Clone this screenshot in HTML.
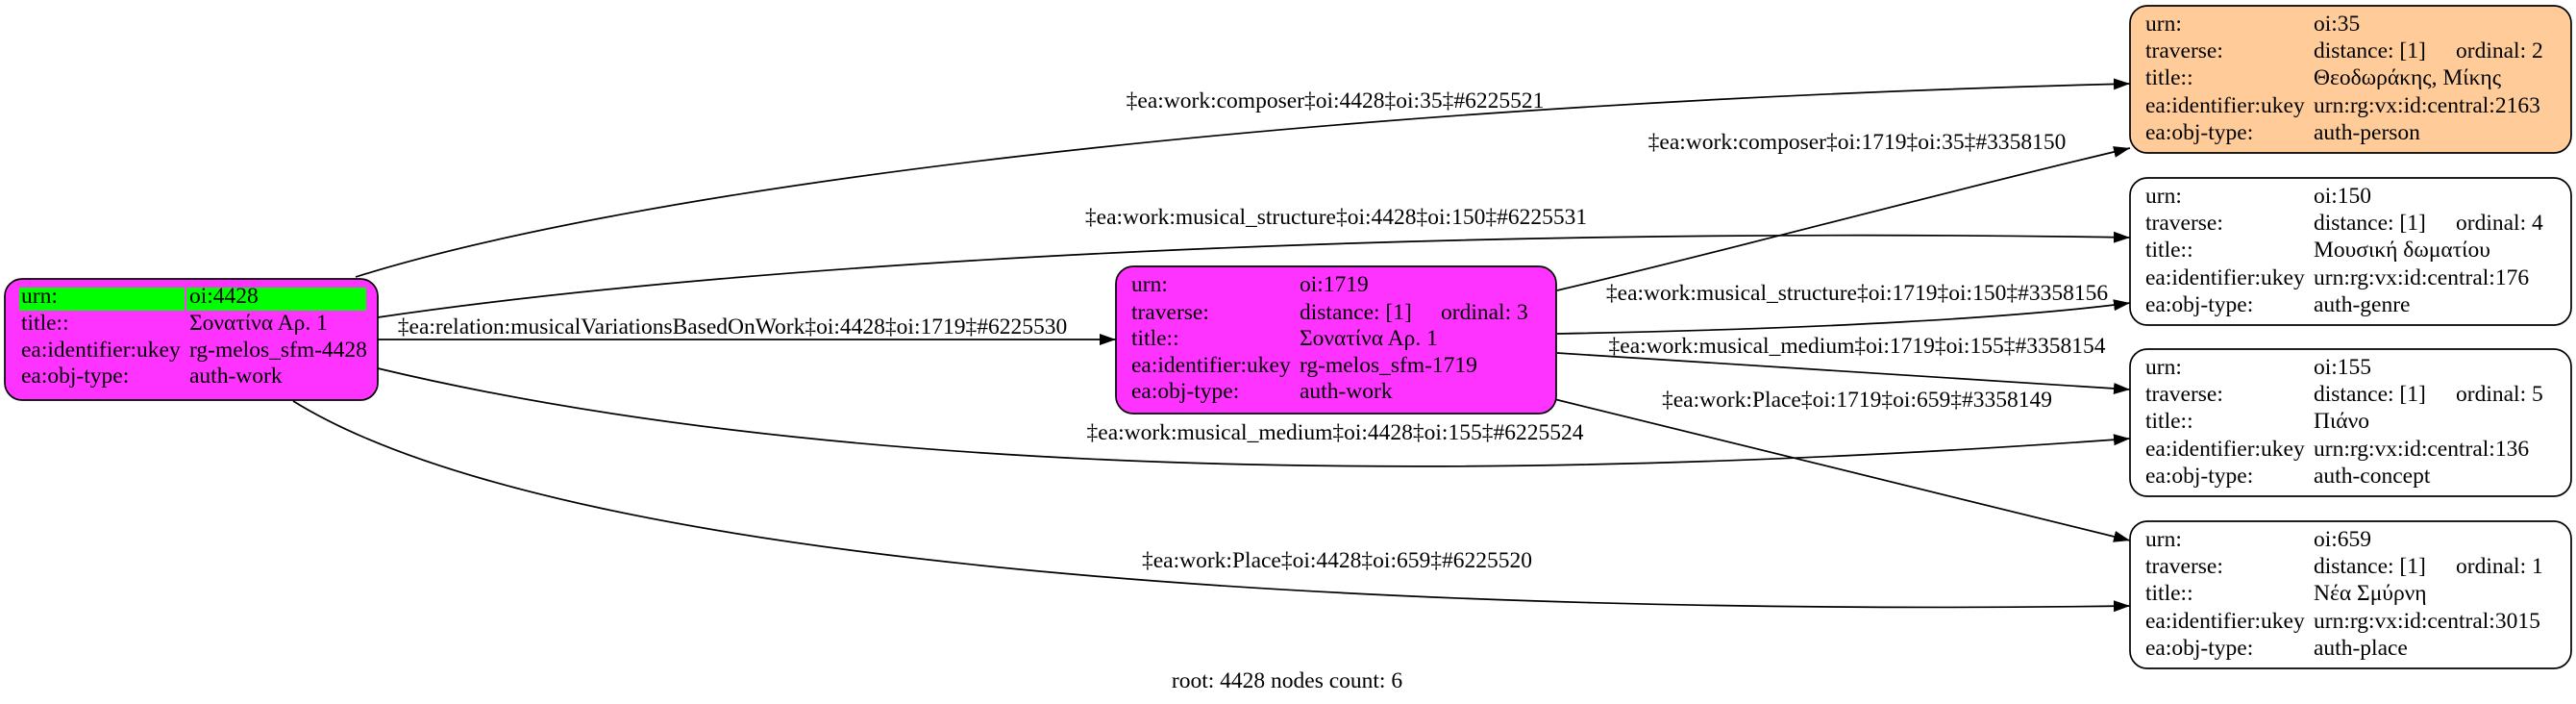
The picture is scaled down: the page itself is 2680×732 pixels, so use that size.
<!DOCTYPE html>
<html><head><meta charset="utf-8"><style>
html,body{margin:0;padding:0;background:#fff;}
svg{display:block;}
text{font-family:"Liberation Serif","DejaVu Serif",serif;font-size:23.5px;fill:#000;}
</style></head><body>
<svg width="2680" height="732" viewBox="0 0 2680 732" xmlns="http://www.w3.org/2000/svg">
<defs>
<marker id="a" markerUnits="userSpaceOnUse" markerWidth="18" markerHeight="14" refX="17" refY="6" orient="auto">
<path d="M0,0 L17,6 L0,12 Z" fill="#000"/>
</marker>
</defs>
<g fill="none" stroke="#000" stroke-width="1.7" marker-end="url(#a)">
<path d="M370,288 C650,200 1300,110 2216,87"/>
<path d="M393,330 C800,270 1500,235 2216,247"/>
<path d="M393,353 L1161,353"/>
<path d="M393,383 C800,480 1400,515 2216,456"/>
<path d="M305,417 C600,600 1500,640 2216,630"/>
<path d="M1620,302 C1800,260 2000,205 2216,154"/>
<path d="M1620,347 C1900,342 2100,330 2216,315"/>
<path d="M1620,367 C1850,380 2050,395 2216,405"/>
<path d="M1617,415 C1800,460 2000,508 2216,562"/>
</g>
<g text-anchor="middle">
<text x="1389" y="112">‡ea:work:composer‡oi:4428‡oi:35‡#6225521</text>
<text x="1390" y="233">‡ea:work:musical_structure‡oi:4428‡oi:150‡#6225531</text>
<text x="762" y="347">‡ea:relation:musicalVariationsBasedOnWork‡oi:4428‡oi:1719‡#6225530</text>
<text x="1389" y="457">‡ea:work:musical_medium‡oi:4428‡oi:155‡#6225524</text>
<text x="1391" y="590">‡ea:work:Place‡oi:4428‡oi:659‡#6225520</text>
<text x="1932" y="155">‡ea:work:composer‡oi:1719‡oi:35‡#3358150</text>
<text x="1932" y="312">‡ea:work:musical_structure‡oi:1719‡oi:150‡#3358156</text>
<text x="1932" y="367">‡ea:work:musical_medium‡oi:1719‡oi:155‡#3358154</text>
<text x="1932" y="423">‡ea:work:Place‡oi:1719‡oi:659‡#3358149</text>
<text x="1339" y="715">root: 4428 nodes count: 6</text>
</g>
<rect x="5" y="290" width="388" height="126" rx="18" fill="#ff33ff" stroke="#000" stroke-width="1.7"/>
<rect x="20" y="299" width="172" height="24" fill="#00ff00"/>
<rect x="194" y="299" width="187" height="24" fill="#00ff00"/>
<text x="22" y="315">urn:</text><text x="197" y="315">oi:4428</text>
<text x="22" y="343">title::</text><text x="197" y="343">Σονατίνα Αρ. 1</text>
<text x="22" y="371">ea:identifier:ukey</text><text x="197" y="371">rg-melos_sfm-4428</text>
<text x="22" y="398">ea:obj-type:</text><text x="197" y="398">auth-work</text>
<rect x="1161" y="277" width="458" height="153" rx="18" fill="#ff33ff" stroke="#000" stroke-width="1.7"/>
<text x="1177" y="303">urn:</text><text x="1352" y="303">oi:1719</text>
<text x="1177" y="332">traverse:</text><text x="1352" y="332">distance: [1]</text><text x="1499" y="332">ordinal: 3</text>
<text x="1177" y="359">title::</text><text x="1352" y="359">Σονατίνα Αρ. 1</text>
<text x="1177" y="387">ea:identifier:ukey</text><text x="1352" y="387">rg-melos_sfm-1719</text>
<text x="1177" y="414">ea:obj-type:</text><text x="1352" y="414">auth-work</text>
<rect x="2216" y="6" width="459" height="153" rx="18" fill="#ffcc99" stroke="#000" stroke-width="1.7"/>
<text x="2232" y="32">urn:</text><text x="2407" y="32">oi:35</text>
<text x="2232" y="60">traverse:</text><text x="2407" y="60">distance: [1]</text><text x="2555" y="60">ordinal: 2</text>
<text x="2232" y="88">title::</text><text x="2407" y="88">Θεοδωράκης, Μίκης</text>
<text x="2232" y="117">ea:identifier:ukey</text><text x="2407" y="117">urn:rg:vx:id:central:2163</text>
<text x="2232" y="145">ea:obj-type:</text><text x="2407" y="145">auth-person</text>
<rect x="2216" y="185" width="459" height="153" rx="18" fill="#fff" stroke="#000" stroke-width="1.7"/>
<text x="2232" y="211">urn:</text><text x="2407" y="211">oi:150</text>
<text x="2232" y="239">traverse:</text><text x="2407" y="239">distance: [1]</text><text x="2555" y="239">ordinal: 4</text>
<text x="2232" y="267">title::</text><text x="2407" y="267">Μουσική δωματίου</text>
<text x="2232" y="296">ea:identifier:ukey</text><text x="2407" y="296">urn:rg:vx:id:central:176</text>
<text x="2232" y="324">ea:obj-type:</text><text x="2407" y="324">auth-genre</text>
<rect x="2216" y="363" width="459" height="153" rx="18" fill="#fff" stroke="#000" stroke-width="1.7"/>
<text x="2232" y="389">urn:</text><text x="2407" y="389">oi:155</text>
<text x="2232" y="417">traverse:</text><text x="2407" y="417">distance: [1]</text><text x="2555" y="417">ordinal: 5</text>
<text x="2232" y="445">title::</text><text x="2407" y="445">Πιάνο</text>
<text x="2232" y="474">ea:identifier:ukey</text><text x="2407" y="474">urn:rg:vx:id:central:136</text>
<text x="2232" y="502">ea:obj-type:</text><text x="2407" y="502">auth-concept</text>
<rect x="2216" y="542" width="459" height="153" rx="18" fill="#fff" stroke="#000" stroke-width="1.7"/>
<text x="2232" y="568">urn:</text><text x="2407" y="568">oi:659</text>
<text x="2232" y="596">traverse:</text><text x="2407" y="596">distance: [1]</text><text x="2555" y="596">ordinal: 1</text>
<text x="2232" y="624">title::</text><text x="2407" y="624">Νέα Σμύρνη</text>
<text x="2232" y="653">ea:identifier:ukey</text><text x="2407" y="653">urn:rg:vx:id:central:3015</text>
<text x="2232" y="681">ea:obj-type:</text><text x="2407" y="681">auth-place</text>
</svg>
</body></html>
